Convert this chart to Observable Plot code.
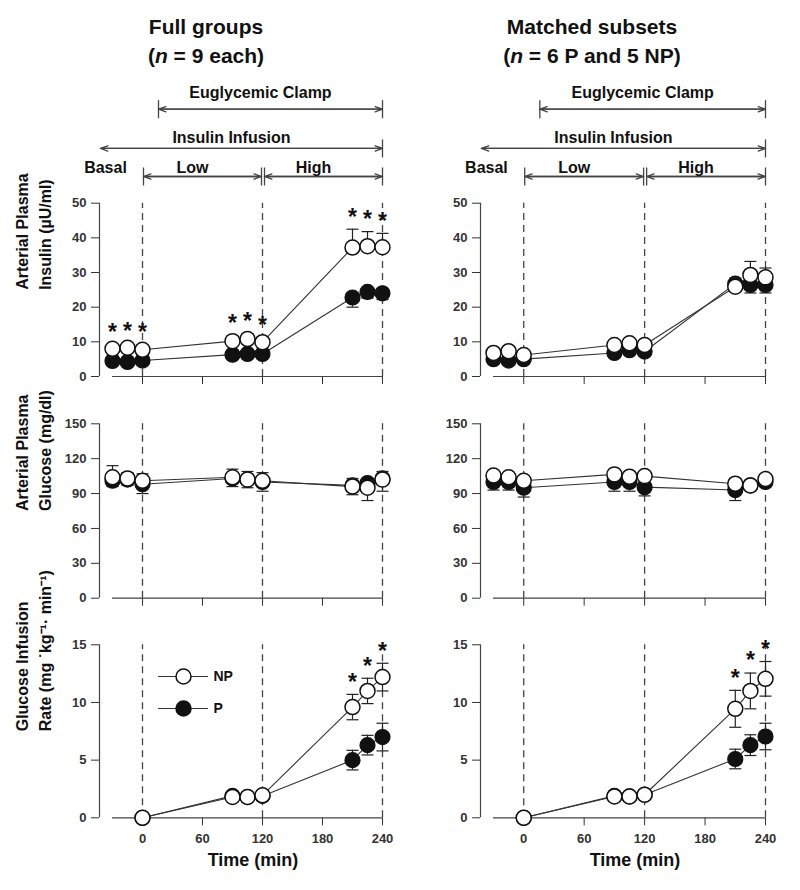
<!DOCTYPE html>
<html><head><meta charset="utf-8">
<script src="https://cdn.jsdelivr.net/npm/d3@7"></script>
<script src="https://cdn.jsdelivr.net/npm/@observablehq/plot@0.6"></script>
<style>
body{margin:0;background:#fff;}
#fig{position:relative;width:800px;height:890px;font-family:"Liberation Sans",Arial,sans-serif;color:#111;overflow:hidden;}
.title{position:absolute;font-weight:bold;font-size:21px;line-height:29px;text-align:center;transform:translateX(-50%);white-space:nowrap;}
</style></head>
<body><div id="fig">
<div class="title" style="left:206px;top:12px">Full groups<br>(<i>n</i> = 9 each)</div>
<div class="title" style="left:592px;top:12px">Matched subsets<br>(<i>n</i> = 6 P and 5 NP)</div>
</div>
<script>
// ---------- data ----------
const times = [-30, -15, 0, 90, 105, 120, 210, 225, 240];
const girTimes = [0, 90, 105, 120, 210, 225, 240];
const phaseBoundaries = [0, 120, 240];
const xDomain = [-30, 240];
const xTicks = [0, 60, 120, 180, 240];
const insulinTicks = [0, 10, 20, 30, 40, 50];
const glucoseTicks = [0, 30, 60, 90, 120, 150];
const girTicks = [0, 5, 10, 15];
const groups = ["NP", "P"];

// Insulin (µU/ml) — full groups
const insFullNP   = [8.0, 8.3, 7.7, 10.2, 10.8, 9.9, 37.2, 37.6, 37.3];
const insFullNPse = [1.2, 1.3, 1.4, 1.5, 1.6, 1.4, 5.3, 4.2, 4.0];
const insFullP    = [4.5, 4.2, 4.6, 6.3, 6.5, 6.5, 22.8, 24.4, 24.0];
const insFullPse  = [0.8, 0.8, 0.8, 1.0, 1.0, 1.0, 2.8, 1.8, 1.8];
const insFullSig  = [1, 1, 1, 1, 1, 1, 1, 1, 1];
// Insulin — matched subsets
const insSubNP   = [6.8, 7.3, 6.2, 9.1, 9.6, 9.1, 25.9, 29.3, 28.6];
const insSubNPse = [1.0, 1.0, 1.0, 1.2, 1.2, 1.2, 2.5, 3.9, 2.7];
const insSubP    = [5.0, 4.6, 5.0, 6.8, 7.6, 7.2, 26.8, 26.4, 26.4];
const insSubPse  = [0.8, 0.8, 0.8, 1.0, 1.0, 1.0, 2.0, 2.3, 2.3];
const insSubSig  = [0, 0, 0, 0, 0, 0, 0, 0, 0];

// Glucose (mg/dl) — full groups
const gluFullNP   = [104, 103, 101, 104, 102, 101, 96, 95, 102];
const gluFullNPse = [10, 5, 6, 7, 7, 7, 7, 6, 7];
const gluFullP    = [101, 102, 98, 103, 102, 100, 97, 99, 103];
const gluFullPse  = [5, 5, 8, 7, 7, 8, 8, 15, 11];
// Glucose — matched subsets
const gluSubNP   = [105.5, 104, 101, 106.5, 104.5, 105, 98.5, 97, 102.5];
const gluSubNPse = [3, 3, 3, 3, 3, 3, 3, 3, 3];
const gluSubP    = [100, 100, 95, 100, 100, 95.5, 93, 97, 100];
const gluSubPse  = [7, 7, 8, 8, 8, 7.5, 9, 4, 4];

// Glucose infusion rate — full groups
const girFullNP   = [0, 1.8, 1.8, 1.95, 9.6, 11.0, 12.2];
const girFullNPse = [0, 0.2, 0.2, 0.2, 1.1, 1.1, 1.2];
const girFullP    = [0, 1.9, 1.8, 1.9, 5.0, 6.3, 7.0];
const girFullPse  = [0, 0.2, 0.2, 0.2, 0.85, 0.85, 1.2];
const girFullSig  = [0, 0, 0, 0, 1, 1, 1];
// GIR — matched subsets
const girSubNP   = [0, 1.85, 1.85, 2.0, 9.45, 11.0, 12.05];
const girSubNPse = [0, 0.2, 0.2, 0.2, 1.6, 1.55, 1.5];
const girSubP    = [0, 1.9, 1.85, 2.0, 5.1, 6.3, 7.05];
const girSubPse  = [0, 0.2, 0.2, 0.2, 0.85, 0.9, 1.15];
const girSubSig  = [0, 0, 0, 0, 1, 1, 1];

// header annotation spans (time, min)
const spanLabels = ["Euglycemic Clamp", "Insulin Infusion", "Low", "High"];
const spanFrom   = [16, -42, 1, 122];
const spanTo     = [240, 240, 119, 240];
const spanTier   = [0, 1, 2, 2];
const spanBarFrom = [true, false, true, true];
const basalLabel = "Basal";
const basalTime = -37;
const basalTier = 2;

const yTitles = ["Arterial Plasma\nInsulin (µU/ml)", "Arterial Plasma\nGlucose (mg/dl)", "Glucose Infusion\nRate (mg ˙kg⁻¹· min⁻¹)"];
const xTitle = "Time (min)";

// ---------- layout / style ----------
const FONT = "Liberation Sans, Arial, sans-serif";
const yAxisGap = 13;
const columns = [
  {left: 0, mL: 99, mR: 18, yTitle: true},
  {left: 400, mL: 80, mR: 35, yTitle: false}
];
const rowsLayout = [
  {top: 188, height: 212, mT: 14.7, mB: 24},
  {top: 400, height: 220, mT: 23.3, mB: 22.3},
  {top: 620, height: 270, mT: 24.3, mB: 72.7}
];
// header tiers: arrow offset from even spacing and label offset above arrow (px)
const tierShift = [0, 5.6, 0];
const tierLabelGap = [-16.7, -11, -9];

const fig = document.getElementById("fig");
function place(el, left, top) {
  el.style.position = "absolute";
  el.style.left = left + "px";
  el.style.top = top + "px";
  fig.appendChild(el);
}
const capSymbol = {draw(ctx, size) { const w = Math.sqrt(size / Math.PI); ctx.moveTo(-w, 0); ctx.lineTo(w, 0); }};
const vbarSymbol = {draw(ctx, size) { const w = Math.sqrt(size / Math.PI); ctx.moveTo(0, -w); ctx.lineTo(0, w); }};
const svgStyle = {background: "transparent", overflow: "visible", fontFamily: FONT, fontSize: "13px", fontWeight: "bold", color: "#333"};

function rowsOf(t, v, se, sig) {
  return t.map((tt, i) => ({t: tt, v: v[i], se: se[i], sig: sig ? sig[i] : 0}));
}
function errorBars(rows, dirs) {
  const out = [];
  for (const s of dirs) {
    const end = d => d.v + s * d.se;
    out.push(Plot.ruleX(rows, {x: "t", y1: "v", y2: end, stroke: "#222", strokeWidth: 1.2}));
    out.push(Plot.dot(rows, {x: "t", y: end, r: 6, symbol: capSymbol, stroke: "#222", strokeWidth: 1.2, fill: "none"}));
  }
  return out;
}

function makePanel(col, lay, cfg) {
  const ymax = cfg.yTicks[cfg.yTicks.length - 1];
  const npRows = rowsOf(cfg.t, cfg.np, cfg.npSe, cfg.sig);
  const pRows = rowsOf(cfg.t, cfg.p, cfg.pSe);
  const marks = [
    Plot.ruleX(phaseBoundaries, {y1: 0, y2: ymax, stroke: "#444", strokeWidth: 1.3, strokeDasharray: "7,5"}),
    Plot.ruleY([0], {x1: xDomain[0], x2: xDomain[1], stroke: "#444", strokeWidth: 1.2}),
    Plot.ruleX([xDomain[0]], {y1: 0, y2: ymax, dx: -yAxisGap, stroke: "#444", strokeWidth: 1.2}),
    Plot.line(pRows, {x: "t", y: "v", stroke: "#333", strokeWidth: 1.1}),
    Plot.line(npRows, {x: "t", y: "v", stroke: "#333", strokeWidth: 1.1}),
    ...errorBars(pRows, cfg.both ? [-1, 1] : [-1]),
    Plot.dot(pRows, {x: "t", y: "v", r: 7.5, fill: "#111", stroke: "#111", strokeWidth: 1.2}),
    ...errorBars(npRows, cfg.both ? [-1, 1] : [1]),
    Plot.dot(npRows, {x: "t", y: "v", r: 7.5, fill: "white", stroke: "#111", strokeWidth: 1.5}),
    Plot.text(npRows.filter(d => d.sig), {x: "t", y: d => d.v + d.se, text: () => "*", dy: -12, fontSize: 23, fontWeight: "bold", fill: "#111"})
  ];
  if (col.yTitle) {
    marks.push(Plot.text([cfg.yTitle], {text: d => d, frameAnchor: "left", dx: -67.5, rotate: -90, fontSize: 16, fontWeight: "bold", lineHeight: 1.45, fill: "#111"}));
  }
  if (cfg.showX) {
    marks.push(Plot.text([xTitle], {text: d => d, frameAnchor: "bottom", dy: 47.7, dx: 12, fontSize: 18, fontWeight: "bold", fill: "#111"}));
  }
  return Plot.plot({
    width: 400, height: lay.height,
    marginLeft: col.mL, marginRight: col.mR, marginTop: lay.mT, marginBottom: lay.mB,
    style: svgStyle,
    x: {domain: xDomain, insetLeft: yAxisGap, ticks: xTicks, tickSize: 8, tickPadding: 8,
        tickFormat: cfg.showX ? d => String(d) : () => "", label: null},
    y: {domain: [0, ymax], ticks: cfg.yTicks, tickSize: 8, tickPadding: 5, label: null},
    marks
  });
}

function makeHeader(col) {
  const spans = spanLabels.map((label, i) => ({label, from: spanFrom[i], to: spanTo[i], tier: spanTier[i], barFrom: spanBarFrom[i]}));
  const bars = spans.flatMap(s => (s.barFrom ? [{x: s.from, tier: s.tier}] : []).concat([{x: s.to, tier: s.tier}]));
  const marks = [];
  [0, 1, 2].forEach(tier => {
    const sp = spans.filter(s => s.tier === tier);
    const br = bars.filter(b => b.tier === tier);
    const arrowOpts = {y1: "tier", y2: "tier", dy: tierShift[tier], stroke: "#444", strokeWidth: 1.3, headLength: 9, headAngle: 40};
    marks.push(
      Plot.arrow(sp, {x1: "from", x2: "to", ...arrowOpts}),
      Plot.arrow(sp, {x1: "to", x2: "from", ...arrowOpts}),
      Plot.dot(br, {x: "x", y: "tier", dy: tierShift[tier], r: 9, symbol: vbarSymbol, stroke: "#444", strokeWidth: 1.3, fill: "none"}),
      Plot.text(sp, {x: s => (s.from + s.to) / 2, y: "tier", text: "label", dx: -10, dy: tierShift[tier] + tierLabelGap[tier], fontSize: 16, fontWeight: "bold", fill: "#111"})
    );
  });
  marks.push(Plot.text([basalLabel], {x: basalTime, y: basalTier, text: d => d, dy: tierShift[basalTier] + tierLabelGap[basalTier], fontSize: 16, fontWeight: "bold", fill: "#111"}));
  return Plot.plot({
    width: 400, height: 188,
    marginLeft: col.mL, marginRight: col.mR, marginTop: 108.7, marginBottom: 12,
    style: svgStyle,
    x: {domain: xDomain, insetLeft: yAxisGap, axis: null},
    y: {domain: [0, 2], reverse: true, axis: null},
    marks
  });
}

const panelCfgs = [
  [
    {t: times, np: insFullNP, npSe: insFullNPse, p: insFullP, pSe: insFullPse, sig: insFullSig, yTicks: insulinTicks, yTitle: yTitles[0]},
    {t: times, np: gluFullNP, npSe: gluFullNPse, p: gluFullP, pSe: gluFullPse, yTicks: glucoseTicks, yTitle: yTitles[1]},
    {t: girTimes, np: girFullNP, npSe: girFullNPse, p: girFullP, pSe: girFullPse, sig: girFullSig, yTicks: girTicks, yTitle: yTitles[2], both: true, showX: true}
  ],
  [
    {t: times, np: insSubNP, npSe: insSubNPse, p: insSubP, pSe: insSubPse, sig: insSubSig, yTicks: insulinTicks},
    {t: times, np: gluSubNP, npSe: gluSubNPse, p: gluSubP, pSe: gluSubPse, yTicks: glucoseTicks},
    {t: girTimes, np: girSubNP, npSe: girSubNPse, p: girSubP, pSe: girSubPse, sig: girSubSig, yTicks: girTicks, both: true, showX: true}
  ]
];

columns.forEach((col, ci) => {
  place(makeHeader(col), col.left, 0);
  rowsLayout.forEach((lay, ri) => {
    place(makePanel(col, lay, panelCfgs[ci][ri]), col.left, lay.top);
  });
});

// legend (in the left GIR panel)
const legend = Plot.plot({
  width: 80, height: 50, marginLeft: 0, marginRight: 30, marginTop: 9, marginBottom: 9,
  style: svgStyle,
  y: {type: "point", domain: groups, padding: 0, axis: null},
  marks: [
    Plot.ruleY(groups, {y: d => d, stroke: "#333", strokeWidth: 1.2}),
    Plot.dot(groups.filter(g => g === "P"), {y: d => d, r: 7.5, fill: "#111", stroke: "#111"}),
    Plot.dot(groups.filter(g => g === "NP"), {y: d => d, r: 7.5, fill: "white", stroke: "#111", strokeWidth: 1.5}),
    Plot.text(groups, {y: d => d, text: d => d, frameAnchor: "right", textAnchor: "start", dx: 5, fontSize: 14, fontWeight: "bold", fill: "#111"})
  ]
});
place(legend, 158, 667);
</script>
</body></html>
